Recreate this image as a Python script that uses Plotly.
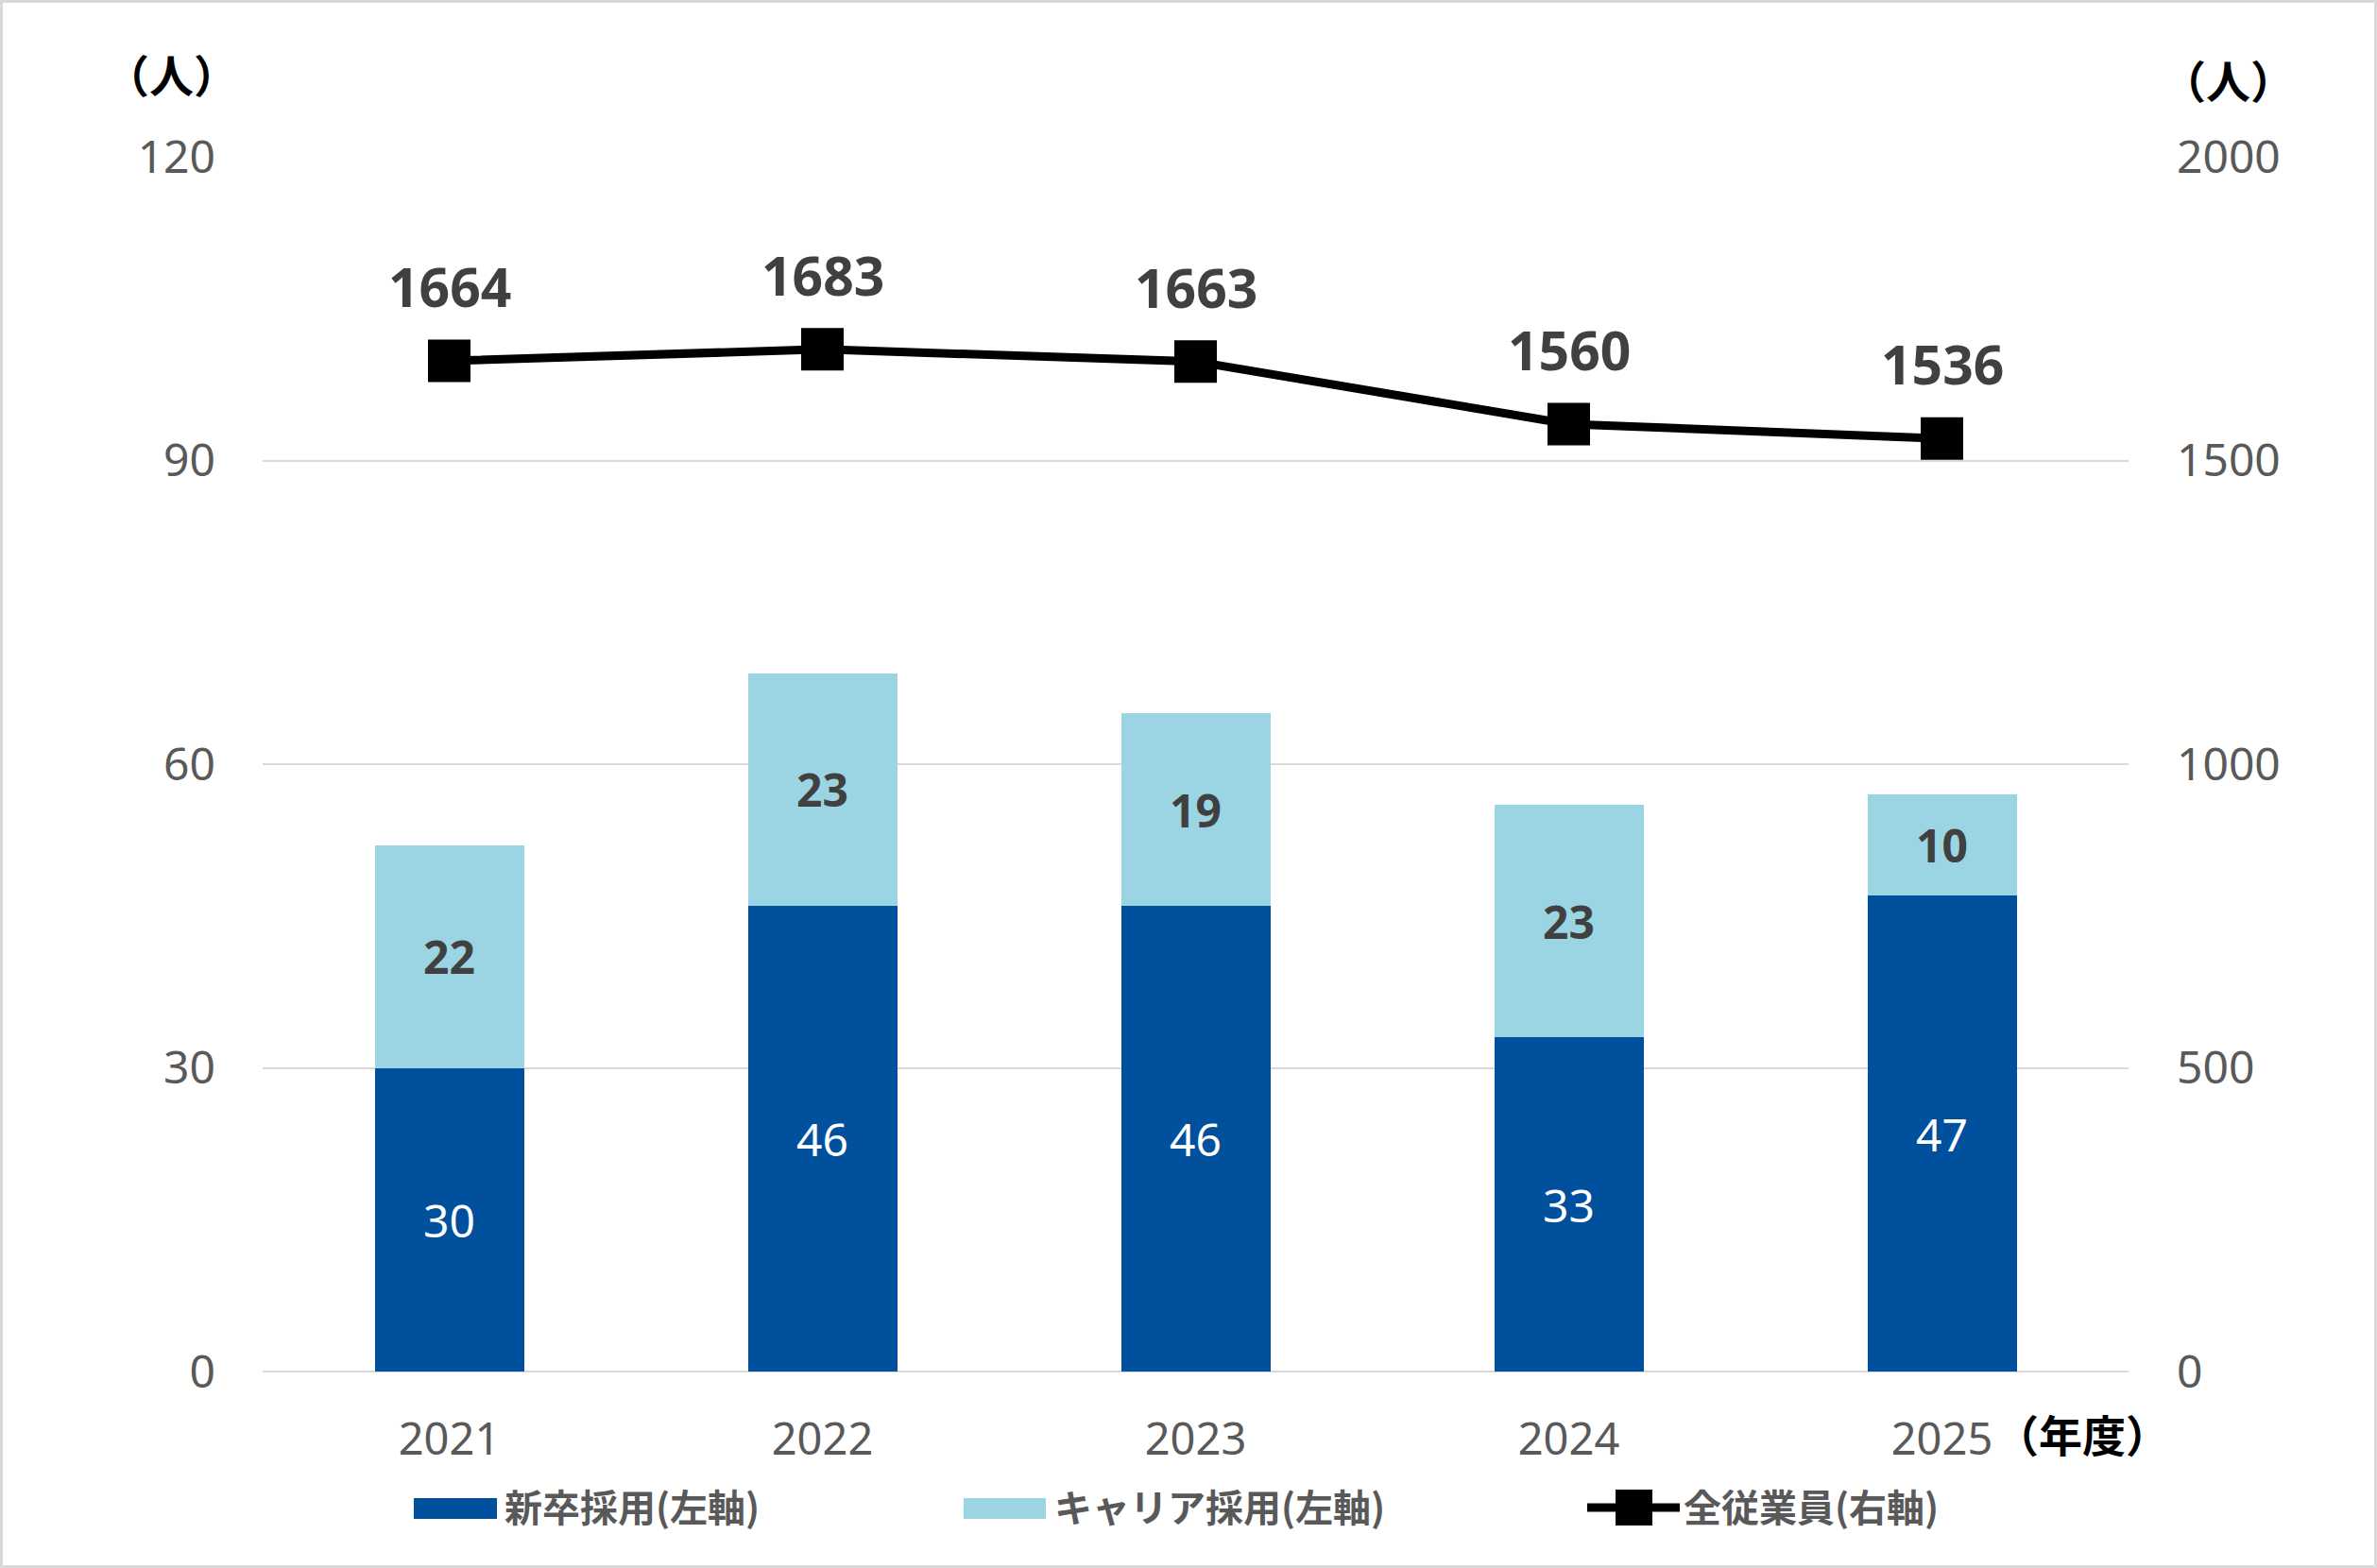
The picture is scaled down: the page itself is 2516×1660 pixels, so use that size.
import plotly.graph_objects as go

years = ["2021", "2022", "2023", "2024", "2025"]
new_grad = [30, 46, 46, 33, 47]
career = [22, 23, 19, 23, 10]
total_staff = [1664, 1683, 1663, 1560, 1536]

name_new = "新卒採用(左軸)"
name_career = "キャリア採用(左軸)"
name_total = "全従業員(右軸)"

C_DARK = "#00509E"
C_LIGHT = "#9BD5E4"
C_TICK = "#595959"
C_LABEL = "#404040"
C_GRID = "#D9D9D9"

W, H = 2516, 1660
L, R, T, B = 278, 263, 166, 208
PW, PH = W - L - R, H - T - B


def px(x):
    return (x - L) / PW


def py(y):
    return (H - B - y) / PH


NUM = "Noto Sans, Open Sans, sans-serif"
CJK = "Noto Sans CJK JP, Noto Sans, sans-serif"

fig = go.Figure()

fig.add_trace(go.Bar(
    x=years, y=new_grad, name=name_new, marker=dict(color=C_DARK, line=dict(width=0)),
    text=[str(v) for v in new_grad], textposition="inside", insidetextanchor="middle",
    textfont=dict(color="white", size=48, family=NUM), showlegend=False,
    constraintext="none",
))
fig.add_trace(go.Bar(
    x=years, y=career, name=name_career, marker=dict(color=C_LIGHT, line=dict(width=0)),
    text=["<b>%d</b>" % v for v in career], textposition="inside", insidetextanchor="middle",
    textfont=dict(color=C_LABEL, size=48, family=NUM), showlegend=False,
    constraintext="none",
))
fig.add_trace(go.Scatter(
    x=years, y=total_staff, name=name_total, yaxis="y2", mode="lines+markers",
    line=dict(color="black", width=9),
    marker=dict(symbol="square", size=45, color="black"),
    showlegend=False,
))

annotations = []
for i, v in enumerate(total_staff):
    annotations.append(dict(
        x=i, y=v, xref="x", yref="y2", text="<b>%d</b>" % v, showarrow=False,
        yshift=79, font=dict(size=57, color=C_LABEL, family=NUM),
    ))

# axis unit labels
annotations.append(dict(x=px(181), y=py(77), xref="paper", yref="paper", text="<b>（人）</b>",
                        showarrow=False, font=dict(size=47, color="black", family=CJK),
                        xanchor="center", yanchor="middle"))
annotations.append(dict(x=px(2358), y=py(84), xref="paper", yref="paper", text="<b>（人）</b>",
                        showarrow=False, font=dict(size=47, color="black", family=CJK),
                        xanchor="center", yanchor="middle"))
annotations.append(dict(x=px(2110), y=py(1517), xref="paper", yref="paper", text="<b>（年度）</b>",
                        showarrow=False, font=dict(size=46, color="black", family=CJK),
                        xanchor="left", yanchor="middle"))

# manual legend
shapes = []
leg_y = 1596
shapes.append(dict(type="rect", xref="paper", yref="paper", x0=px(438), x1=px(526),
                   y0=py(1608), y1=py(1586), fillcolor=C_DARK, line=dict(width=0)))
shapes.append(dict(type="rect", xref="paper", yref="paper", x0=px(1020), x1=px(1107),
                   y0=py(1608), y1=py(1586), fillcolor=C_LIGHT, line=dict(width=0)))
shapes.append(dict(type="line", xref="paper", yref="paper", x0=px(1680), x1=px(1778),
                   y0=py(leg_y), y1=py(leg_y), line=dict(color="black", width=9)))
shapes.append(dict(type="rect", xref="paper", yref="paper", x0=px(1710), x1=px(1749),
                   y0=py(1615), y1=py(1577), fillcolor="black", line=dict(width=0)))
for xs, txt in [(532, name_new), (1114, name_career), (1780, name_total)]:
    annotations.append(dict(x=px(xs), y=py(leg_y - 2), xref="paper", yref="paper", text="<b>%s</b>" % txt,
                            showarrow=False, xanchor="left", yanchor="middle",
                            font=dict(size=40, color=C_TICK, family=CJK)))

# outer border
shapes.append(dict(type="rect", xref="paper", yref="paper", x0=px(1.5), x1=px(W - 1.5),
                   y0=py(H - 1.5), y1=py(1.5), line=dict(color=C_GRID, width=3),
                   fillcolor="rgba(0,0,0,0)", layer="below"))

fig.update_layout(
    width=W, height=H, autosize=False,
    margin=dict(l=L, r=R, t=T, b=B, pad=0),
    paper_bgcolor="white", plot_bgcolor="white",
    barmode="stack", bargap=0.6,
    showlegend=False,
    font=dict(family=NUM, color=C_TICK),
    xaxis=dict(type="category", range=[-0.5, len(years) - 0.5], autorange=False,
               showgrid=False, showline=False, zeroline=False, ticks="",
               tickfont=dict(size=47, color=C_TICK, family=NUM), ticklabelstandoff=40),
    yaxis=dict(range=[0, 120], dtick=30, tick0=0, showgrid=True, gridcolor=C_GRID, gridwidth=2,
               zeroline=True, zerolinecolor=C_GRID, zerolinewidth=2, showline=False, ticks="",
               tickfont=dict(size=48, color=C_TICK, family=NUM), ticklabelstandoff=49),
    yaxis2=dict(range=[0, 2000], dtick=500, tick0=0, overlaying="y", side="right",
                showgrid=False, zeroline=False, showline=False, ticks="",
                tickfont=dict(size=48, color=C_TICK, family=NUM), ticklabelstandoff=50),
    annotations=annotations,
    shapes=shapes,
)

fig.write_html("out.html")
